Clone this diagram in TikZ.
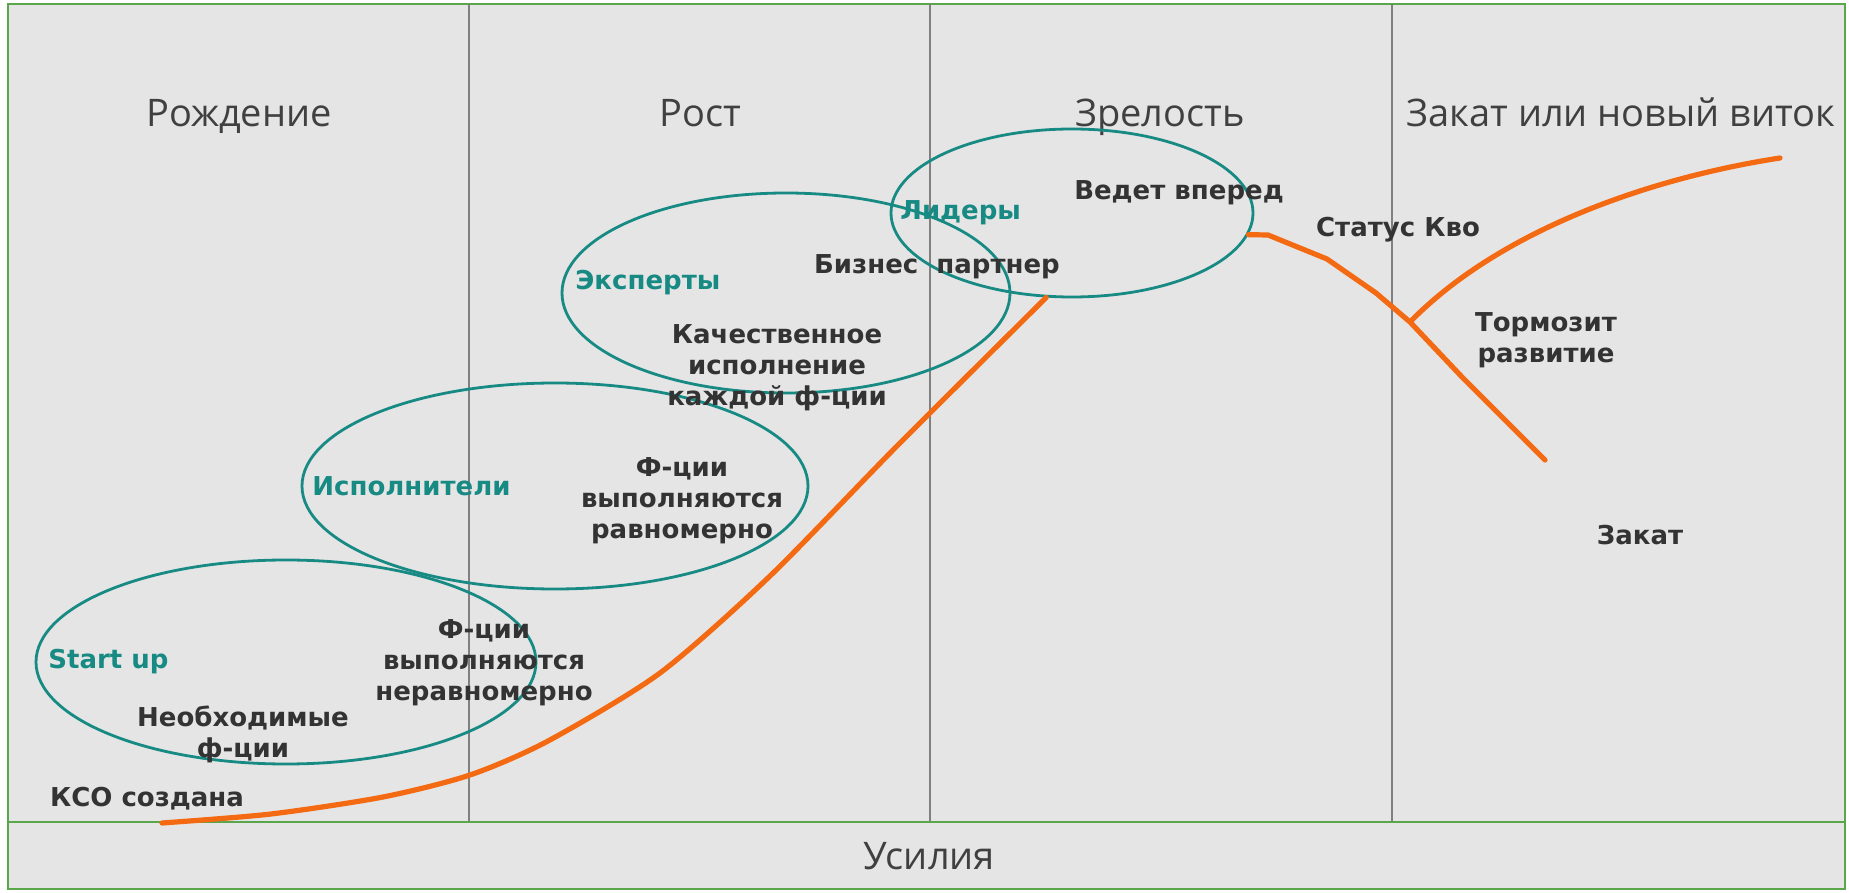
\documentclass[tikz,border=0pt]{standalone}
\usepackage{fontspec}
\setmainfont{DejaVu Sans}
\newfontfamily\stagefont{Open Sans}
\usetikzlibrary{shapes.geometric}
\definecolor{panelgray}{HTML}{E5E5E5}
\definecolor{framegreen}{HTML}{5AA64A}
\definecolor{divider}{HTML}{808080}
\definecolor{roleteal}{HTML}{178A84}
\definecolor{curveorange}{HTML}{F36A12}
\definecolor{labelgray}{HTML}{333333}
\definecolor{titlegray}{HTML}{404040}
\begin{document}
\begin{tikzpicture}[x=0.5pt,y=-0.5pt,
	stage/.style={font=\stagefont\fontsize{19}{23}\selectfont,text=titlegray,anchor=base,inner sep=0},
	lbl/.style={font=\bfseries\fontsize{13}{15.5}\selectfont,text=labelgray,align=center,inner sep=0},
	role/.style={lbl,text=roleteal,anchor=west},
	ring/.style={ellipse,draw=roleteal,line width=1.4pt,inner sep=0},
	curve/.style={draw=curveorange,line width=2.6pt,line cap=round,line join=round}]
		\useasboundingbox (0,0) rectangle (1849,893);
		\fill[white] (0,0) rectangle (1849,893);
		%frame and stages
		\draw[framegreen,fill=panelgray,line width=1pt] (8,4) rectangle (1845,889);
		\foreach \x in {469,930,1392} \draw[divider,line width=0.8pt] (\x,4) -- (\x,822);
		\draw[framegreen,line width=1pt] (8,822) -- (1845,822);
		\node[stage] (birth) at (239,127) {Рождение};
		\node[stage] (growth) at (700,127) {Рост};
		\node[stage] (mature) at (1160,127) {Зрелость};
		\node[stage] (sunset) at (1621,127) {Закат или новый виток};
		\node[stage] (effort) at (929,869) {Усилия};
		%ellipses
		\node[ring,minimum width=250pt,minimum height=102pt] (startup) at (286,662) {};
		\node[ring,minimum width=253pt,minimum height=103pt] (ispoln) at (555,486) {};
		\node[ring,minimum width=224pt,minimum height=100pt] (expert) at (786,293) {};
		\node[ring,minimum width=181pt,minimum height=84pt] (lider) at (1072,213) {};
		%life curve
		\draw[curve] plot[smooth,tension=0.45] coordinates {(162,823) (271,814) (383,797) (470,775) (548,741) (660,673) (770,576) (897,446) (lider.253)};
		\coordinate (fork) at (1410,322);
		\draw[curve] (lider.353) -- (1268,235) -- (1327,259) -- (1376,293) -- (fork) -- (1462,377) -- (1545,460);
		\draw[curve] (fork) .. controls (1500,230) and (1650,178) .. (1780,158);
		%labels
		\node[role] (startuplbl) at (48,662) {Start up};
		\node[lbl] (needed) at (243,734) {Необходимые\\ф-ции};
		\node[lbl] (uneven) at (484,663) {Ф-ции\\выполняются\\неравномерно};
		\node[lbl] (created) at (147,799) {КСО создана};
		\node[role] (ispolnlbl) at (312,486) {Исполнители};
		\node[lbl] (even) at (682,501) {Ф-ции\\выполняются\\равномерно};
		\node[role] (expertlbl) at (575,283) {Эксперты};
		\node[lbl] (partner) at (937,267) {Бизнес\ \ партнер};
		\node[lbl] (quality) at (777,368) {Качественное\\исполнение\\каждой ф-ции};
		\node[role] (liderlbl) at (900,213) {Лидеры};
		\node[lbl] (ahead) at (1179,193) {Ведет вперед};
		\node[lbl] (status) at (1398,230) {Статус Кво};
		\node[lbl] (brake) at (1546,340) {Тормозит\\развитие};
		\node[lbl] (decline) at (1640,535) {Закат};
\end{tikzpicture}
\end{document}
